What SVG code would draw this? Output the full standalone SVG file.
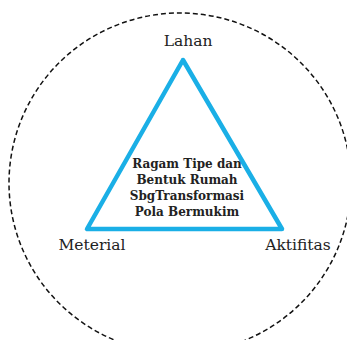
<svg xmlns="http://www.w3.org/2000/svg" width="347" height="340" viewBox="0 0 347 340">
<style>
.lbl{font-family:"DejaVu Serif","Liberation Serif",serif;font-size:15.5px;fill:#222;text-anchor:middle}
.ctr{font-family:"DejaVu Serif","Liberation Serif",serif;font-size:12px;font-weight:bold;fill:#222;text-anchor:middle}
</style>
<rect width="347" height="340" fill="#fff"/>
<g id="boundary">
<ellipse cx="180" cy="183" rx="171" ry="170" fill="none" stroke="#111" stroke-width="1.5" stroke-dasharray="5,3"/>
</g>
<g id="connectors">
<polygon points="183,60 87,229 282,229" fill="none" stroke="#1AAFE6" stroke-width="4.5" stroke-linejoin="round"/>
</g>
<g id="lahan"><text class="lbl" x="188" y="46">Lahan</text></g>
<g id="meterial"><text class="lbl" x="92" y="250">Meterial</text></g>
<g id="aktifitas"><text class="lbl" x="298" y="250">Aktifitas</text></g>
<g id="center">
<text class="ctr" x="187" y="168">Ragam Tipe dan</text>
<text class="ctr" x="187" y="184">Bentuk Rumah</text>
<text class="ctr" x="187" y="200">SbgTransformasi</text>
<text class="ctr" x="187" y="216">Pola Bermukim</text>
</g>
</svg>
